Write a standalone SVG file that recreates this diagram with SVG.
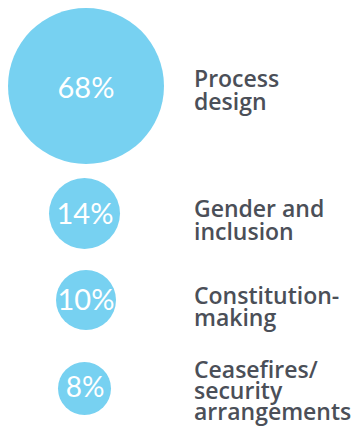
<svg xmlns="http://www.w3.org/2000/svg" width="354" height="430" viewBox="0 0 354 430">
<style>
.c{fill:#77d1f1}
.p{font-family:Lato,"Open Sans",sans-serif;font-weight:400;fill:#fff;text-anchor:middle}
.l{font-family:"Open Sans","Liberation Sans",sans-serif;font-weight:600;font-size:23px;fill:#4b4f58}
</style>
<rect width="354" height="430" fill="#fff"/>
<g id="node-process">
<circle class="c" cx="86" cy="86" r="78"/>
<text class="p" x="86" y="98" font-size="29">68%</text>
<text class="l" x="194" y="87">Process</text>
<text class="l" x="194" y="110">design</text>
</g>
<g id="node-gender">
<circle class="c" cx="84.5" cy="213.5" r="35.5"/>
<text class="p" x="85" y="224" font-size="29">14%</text>
<text class="l" x="194" y="217">Gender and</text>
<text class="l" x="194" y="240">inclusion</text>
</g>
<g id="node-constitution">
<circle class="c" cx="86" cy="300" r="30"/>
<text class="p" x="86" y="310" font-size="29">10%</text>
<text class="l" x="194" y="304">Constitution-</text>
<text class="l" x="194" y="326">making</text>
</g>
<g id="node-ceasefires">
<circle class="c" cx="84.5" cy="388.5" r="26.5"/>
<text class="p" x="85" y="397" font-size="28">8%</text>
<text class="l" x="194" y="378">Ceasefires/</text>
<text class="l" x="194" y="399">security</text>
<text class="l" x="194" y="420">arrangements</text>
</g>
<g id="connectors"></g>
</svg>
